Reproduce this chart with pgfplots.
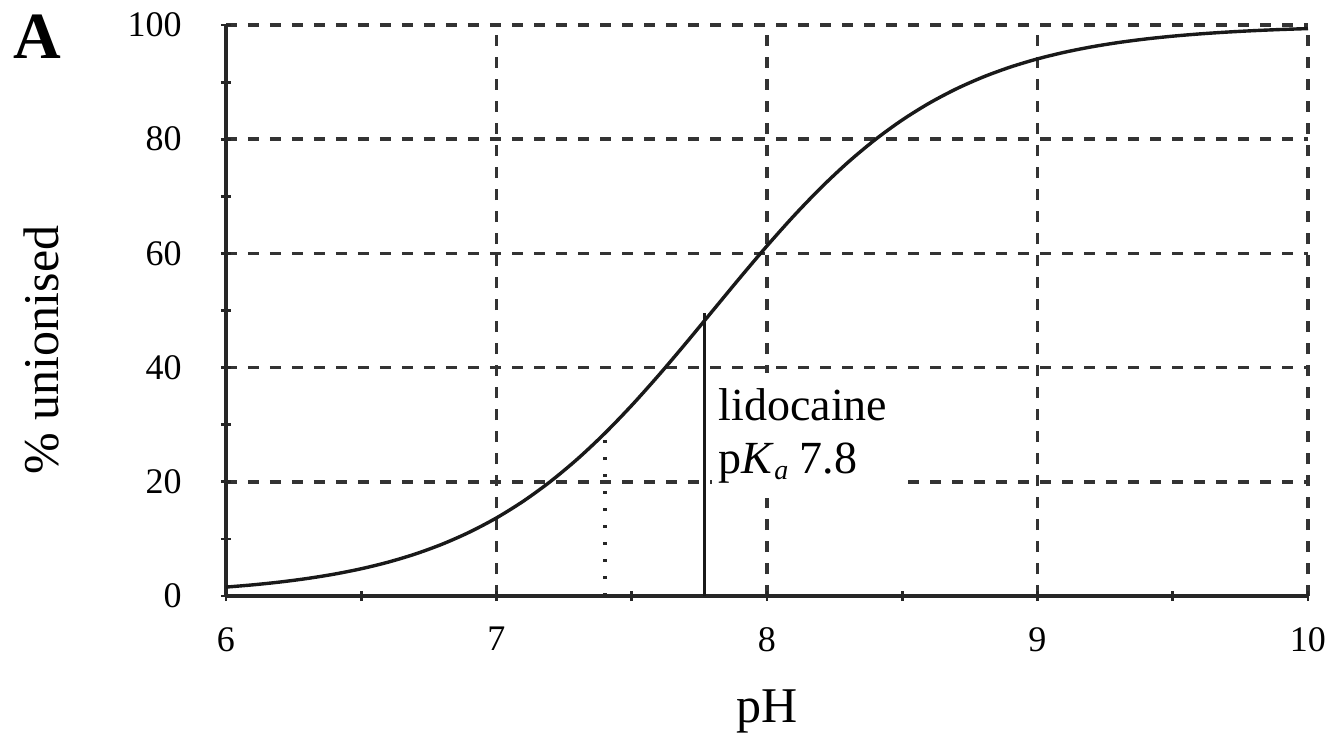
\documentclass[border=0pt]{standalone}
\usepackage{fontspec}
\setmainfont{Liberation Serif}
\usepackage{pgfplots}
\pgfplotsset{compat=1.18}
\begin{document}
\begin{tikzpicture}
\path[use as bounding box] (0,0) rectangle (670.5pt,367.5pt);
\begin{axis}[
  at={(113pt,69.5pt)}, anchor=south west,
  scale only axis, width=541pt, height=285.5pt,
  xmin=6, xmax=10, ymin=0, ymax=100,
  axis x line=bottom, axis y line=left,
  axis line style={-, line width=1.9pt, black!85},
  xtick={6,7,8,9,10}, ytick={0,20,40,60,80,100},
  minor xtick={6.5,7.5,8.5,9.5}, minor ytick={10,30,50,70,90},
  tick align=center,
  major tick length=5pt, minor tick length=5pt,
  tick style={line width=1.4pt, black!85},
  grid=major,
  major grid style={line width=1.8pt, black!80, dash pattern=on 5.5pt off 5.5pt},
  /pgf/number format/assume math mode=true,
  ticklabel style={font=\fontsize{18}{18}\selectfont},
  xticklabel style={anchor=north, inner sep=0pt, yshift=-13pt},
  yticklabel style={anchor=east, inner sep=0pt, xshift=-19.5pt},
  clip=false,
]
\fill[white] (axis cs:7.795,17.2) rectangle (axis cs:8.51,39.0);
\addplot[smooth, line width=1.7pt, black!90] coordinates {
(6.0,1.560) (6.1,1.956) (6.2,2.450) (6.3,3.065) (6.4,3.829) (6.5,4.773)
(6.6,5.935) (6.7,7.359) (6.8,9.091) (6.9,11.182) (7.0,13.680) (7.1,16.633)
(7.2,20.076) (7.3,24.025) (7.4,28.474) (7.5,33.387) (7.6,38.686) (7.7,44.269)
(7.8,50.000) (7.9,55.731) (8.0,61.314) (8.1,66.613) (8.2,71.526) (8.3,75.975)
(8.4,79.924) (8.5,83.367) (8.6,86.318) (8.7,88.818) (8.8,90.909) (8.9,92.641)
(9.0,94.065) (9.1,95.227) (9.2,96.171) (9.3,96.935) (9.4,97.550) (9.5,98.044)
(9.6,98.440) (9.7,98.757) (9.8,99.010) (9.9,99.212) (10.0,99.373)
};
\addplot[line width=1.7pt, black!90] coordinates {(7.77,0) (7.77,49.5)};
\addplot[line width=1.9pt, black!85, dash pattern=on 1.5pt off 7pt] coordinates {(7.40,0) (7.40,28.4)};
\node[anchor=base west, inner sep=0pt, font=\fontsize{23}{23}\selectfont] at (axis cs:7.82,30.8) {lidocaine};
\node[anchor=base west, inner sep=0pt, font=\fontsize{23}{23}\selectfont] at (axis cs:7.82,21.5) {p\textit{K}\raisebox{-0.3ex}{\fontsize{14}{14}\selectfont\textit{a}} 7.8};
\node[anchor=base, inner sep=0pt, rotate=90, font=\fontsize{25}{25}\selectfont] at (axis description cs:-0.155,0.431) {\% unionised};
\node[anchor=base, inner sep=0pt, font=\fontsize{25}{25}\selectfont] at (axis description cs:0.5,-0.222) {pH};
\node[anchor=base west, inner sep=0pt, font=\fontsize{33}{33}\selectfont\bfseries] at (axis description cs:-0.197,0.942) {A};
\end{axis}
\end{tikzpicture}
\end{document}
